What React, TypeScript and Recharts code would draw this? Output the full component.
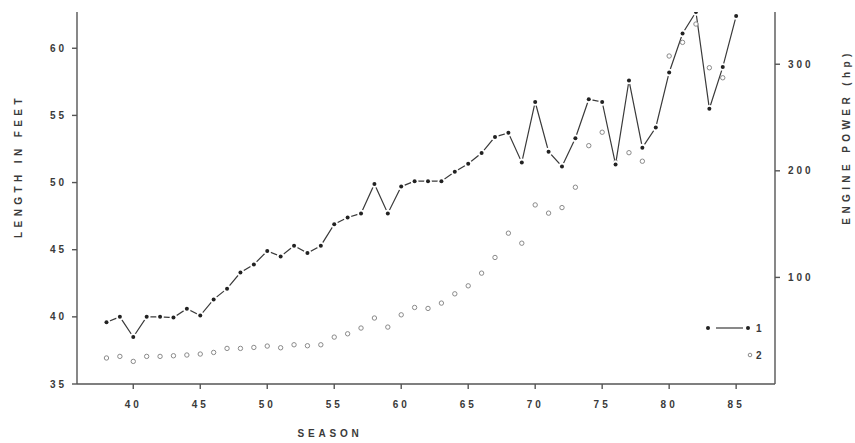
import React from 'react';
import { ComposedChart, Line, XAxis, YAxis, Legend, Label } from 'recharts';

const seasons = [38, 39, 40, 41, 42, 43, 44, 45, 46, 47, 48, 49, 50, 51, 52, 53, 54, 55, 56, 57, 58, 59, 60, 61, 62, 63, 64, 65, 66, 67, 68, 69, 70, 71, 72, 73, 74, 75, 76, 77, 78, 79, 80, 81, 82, 83, 84, 85];
const lengthFeet = [39.6, 40.0, 38.5, 40.0, 40.0, 39.95, 40.6, 40.1, 41.3, 42.1, 43.3, 43.9, 44.9, 44.5, 45.3, 44.75, 45.3, 46.9, 47.4, 47.7, 49.9, 47.7, 49.7, 50.1, 50.1, 50.1, 50.8, 51.4, 52.2, 53.4, 53.7, 51.5, 56.0, 52.3, 51.2, 53.3, 56.2, 56.0, 51.35, 57.6, 52.6, 54.1, 58.2, 61.1, 62.7, 55.5, 58.6, 62.4];
const enginePowerHp = [24.4, 25.9, 21.2, 25.9, 25.9, 26.5, 27.2, 28.1, 29.6, 33.4, 33.4, 34.3, 35.6, 34.0, 36.8, 35.9, 36.8, 44.0, 47.1, 52.5, 61.9, 53.4, 64.9, 71.8, 70.9, 75.9, 84.6, 92.1, 104, 118.7, 141.5, 132.1, 168, 160.3, 165.5, 184.6, 223.6, 236.2, 208, 217, 209, 240.7, 307.7, 320.5, 337.7, 296.7, 287.3, 345.2];

const seasonTicks = [40, 45, 50, 55, 60, 65, 70, 75, 80, 85];
const lengthTicks = [35, 40, 45, 50, 55, 60];
const powerTicks = [100, 200, 300];

const data = seasons.map((s, i) => ({ season: s, length: lengthFeet[i], power: enginePowerHp[i] }));

const FONT = '"Liberation Sans", Arial, sans-serif';
const INK = '#3a3a3a';
const AXIS = '#555';

const tickStyle = { fontFamily: FONT, fontSize: 10, fontWeight: 700, fill: INK, letterSpacing: 3 } as any;

const FilledDot = (props: any) => {
  const { cx, cy, index } = props;
  if (cx == null || cy == null) return <g key={`f${index}`} />;
  return (
    <g key={`f${index}`}>
      <circle cx={cx} cy={cy} r={3.8} fill="#fff" />
      <circle cx={cx} cy={cy} r={2} fill="#222" />
    </g>
  );
};

const OpenDot = (props: any) => {
  const { cx, cy, index } = props;
  if (cx == null || cy == null) return <g key={`o${index}`} />;
  return <circle key={`o${index}`} cx={cx} cy={cy} r={2.2} fill="#fff" stroke="#8a8a8a" strokeWidth={1} />;
};

const LegendBox = () => (
  <svg width={70} height={50} style={{ display: 'block' }}>
    <circle cx={8} cy={10} r={2} fill="#222" />
    <line x1={16} y1={10} x2={43} y2={10} stroke={INK} strokeWidth={1.2} />
    <circle cx={48} cy={10} r={2} fill="#222" />
    <text x={56} y={14} fontFamily={FONT} fontSize={10} fontWeight={700} fill={INK}>1</text>
    <circle cx={50} cy={37} r={1.8} fill="#fff" stroke="#8a8a8a" strokeWidth={1} />
    <text x={56} y={41} fontFamily={FONT} fontSize={10} fontWeight={700} fill={INK}>2</text>
  </svg>
);

export default function App() {
  return (
    <div style={{ position: 'absolute', left: 0, top: 0, background: '#fff' }}>
      <ComposedChart width={855} height={443} data={data} margin={{ top: 12, right: 0, bottom: 0, left: 0 }}>
        <XAxis
          dataKey="season"
          type="number"
          domain={[35.8, 87.9]}
          allowDataOverflow
          ticks={seasonTicks}
          height={59}
          tickSize={5}
          tickMargin={12}
          stroke={AXIS}
          strokeWidth={1.4}
          tick={tickStyle}
        >
          <Label
            content={() => (
              <text x={330} y={437} textAnchor="middle" fontFamily={FONT} fontSize={10} fontWeight={700} fill={INK} letterSpacing={3.8}>
                SEASON
              </text>
            )}
          />
        </XAxis>
        <YAxis
          yAxisId="len"
          orientation="left"
          type="number"
          domain={[35, 62.7]}
          allowDataOverflow
          ticks={lengthTicks}
          width={77}
          tickSize={5}
          tickMargin={5}
          stroke={AXIS}
          strokeWidth={1.4}
          tick={tickStyle}
        >
          <Label
            content={() => (
              <text x={18} y={166} transform="rotate(-90, 18, 166)" textAnchor="middle" dominantBaseline="central" fontFamily={FONT} fontSize={10} fontWeight={700} fill={INK} letterSpacing={4.4}>
                LENGTH IN FEET
              </text>
            )}
          />
        </YAxis>
        <YAxis
          yAxisId="hp"
          orientation="right"
          type="number"
          domain={[0, 349]}
          allowDataOverflow
          ticks={powerTicks}
          width={80}
          tickSize={5}
          tickMargin={8}
          stroke={AXIS}
          strokeWidth={1.4}
          tick={tickStyle}
        >
          <Label
            content={() => (
              <text x={846} y={137} transform="rotate(-90, 846, 137)" textAnchor="middle" dominantBaseline="central" fontFamily={FONT} fontSize={10} fontWeight={700} fill={INK} letterSpacing={4.4}>
                ENGINE POWER (hp)
              </text>
            )}
          />
        </YAxis>
        <Line
          yAxisId="hp"
          dataKey="power"
          name="2"
          stroke="none"
          dot={OpenDot}
          activeDot={false}
          isAnimationActive={false}
        />
        <Line
          yAxisId="len"
          dataKey="length"
          name="1"
          type="linear"
          stroke={INK}
          strokeWidth={1.2}
          dot={FilledDot}
          activeDot={false}
          isAnimationActive={false}
        />
        <Legend
          layout="vertical"
          align="center"
          verticalAlign="middle"
          wrapperStyle={{ left: 700, top: 318, width: 70, height: 50 }}
          content={() => <LegendBox />}
        />
      </ComposedChart>
    </div>
  );
}
